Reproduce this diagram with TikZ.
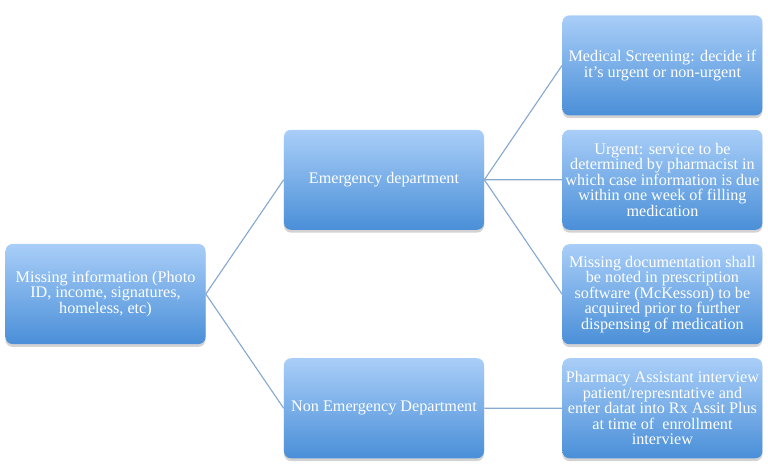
\documentclass[tikz,border=0pt]{standalone}
\usepackage{fontspec}
\setmainfont{Liberation Serif}
\usetikzlibrary{positioning,shadows}
\definecolor{boxtop}{HTML}{A9CEF8}
\definecolor{boxbot}{HTML}{4A8FD8}
\definecolor{linkblue}{HTML}{85A9CF}

\begin{document}
\begin{tikzpicture}[x=0.025cm,y=-0.025cm,
  box/.style={rectangle, rounded corners=5pt, minimum width=5cm, minimum height=2.5cm,
    align=center, inner sep=1pt, top color=boxtop, bottom color=boxbot,
    text=white, font=\fontsize{11.5}{11}\selectfont,
    drop shadow={shadow xshift=0pt, shadow yshift=-2pt, opacity=0.35}},
  grow=right, level distance=69.6mm,
  edge from parent/.style={draw=linkblue, line width=0.8pt},
  edge from parent path={(\tikzparentnode.east) -- (\tikzchildnode.west)},
  level 1/.style={sibling distance=57.1mm},
  level 2/.style={sibling distance=28.6mm}]
\useasboundingbox (0,0) rectangle (768,475);
\node [box] (missing) at (105.5,294) {Missing information (Photo\\ ID, income, signatures,\\ homeless, etc)}
  child{node [box] (nonemerg) {Non Emergency Department}
    child{node [box] (assistant) {Pharmacy Assistant interview\\ patient/represntative and\\ enter datat into Rx Assit Plus\\ at time of~ enrollment\\ interview}}
  }
  child{node [box] (emerg) {Emergency department}
    child{node [box] (missingdoc) {Missing documentation shall\\ be noted in prescription\\ software (McKesson) to be\\ acquired prior to further\\ dispensing of medication}}
    child{node [box] (urgent) {Urgent: service to be\\ determined by pharmacist in\\ which case information is due\\ within one week of filling\\ medication}}
    child{node [box] (screening) {Medical Screening: decide if\\ it's urgent or non-urgent}}
  };
\end{tikzpicture}
\end{document}
